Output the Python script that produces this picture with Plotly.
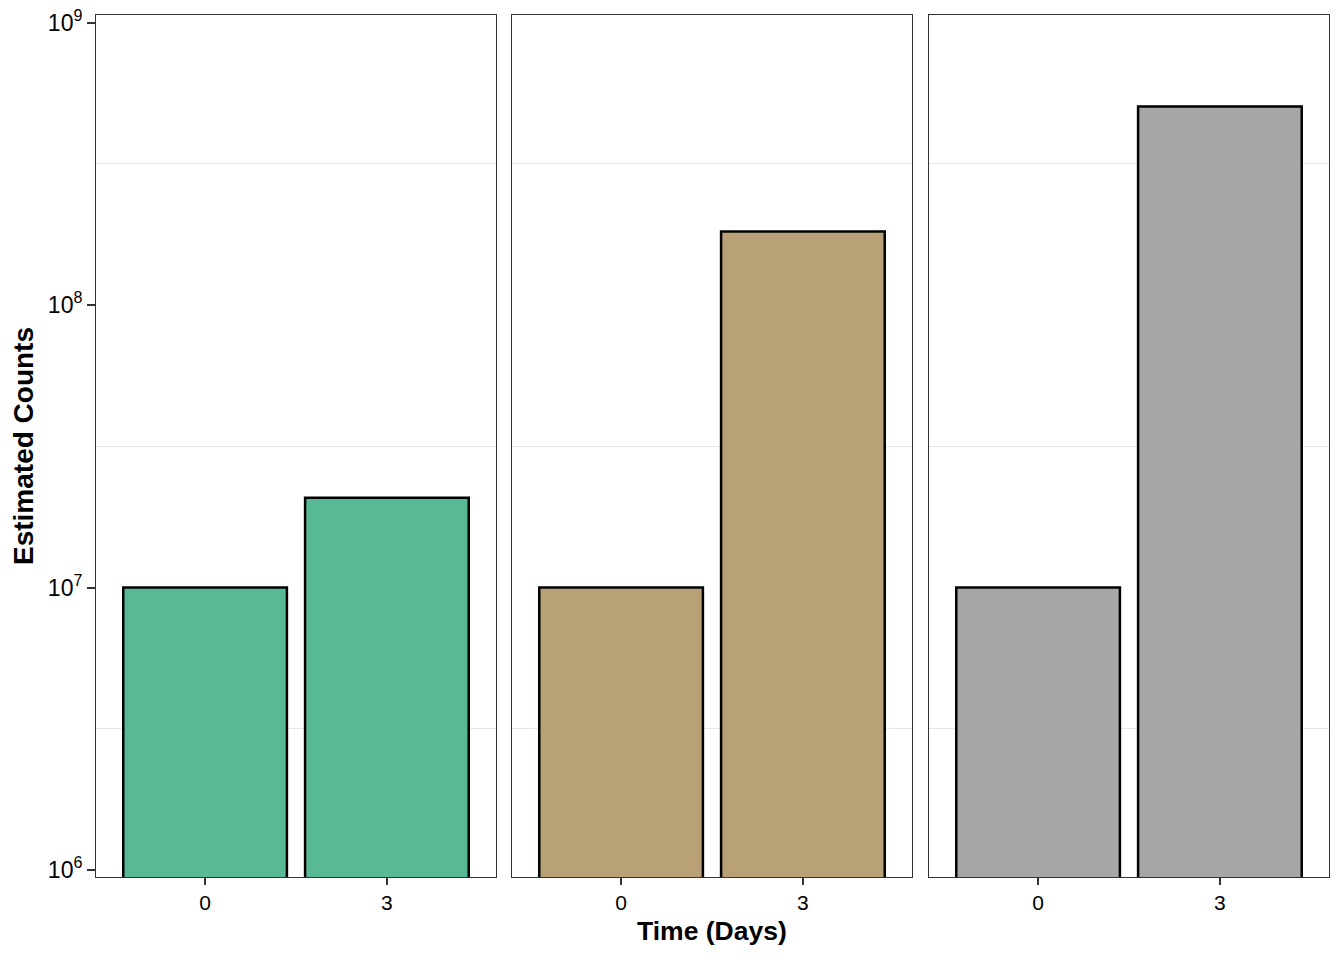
import plotly.graph_objects as go

days = ["0", "3"]
panel_values = [
    [1.0e7, 2.08e7],
    [1.0e7, 1.82e8],
    [1.0e7, 5.05e8],
]
panel_colors = ["#57BA94", "#B8A176", "#A6A6A6"]
ytick_vals = [1e6, 1e7, 1e8, 1e9]
ytick_text = ["10<sup>6</sup>", "10<sup>7</sup>", "10<sup>8</sup>", "10<sup>9</sup>"]
minor_vals = [10 ** 6.5, 10 ** 7.5, 10 ** 8.5]

# page offsets observed in the viewer (body margin)
OX, OY = 8, 8
W, H = 1344 - OX, 960 - OY
L, R, T, B = 96 - OX, 15, 15 - OY, 83
pw = W - L - R
ph = H - T - B
panels_px = [(96, 496), (512, 912), (929, 1329)]

fig = go.Figure()
font = "Liberation Sans, Arial, sans-serif"

for i, (vals, col) in enumerate(zip(panel_values, panel_colors)):
    xa = "x" if i == 0 else f"x{i+1}"
    ya = "y" if i == 0 else f"y{i+1}"
    fig.add_trace(go.Bar(
        x=days, y=[v - 1 for v in vals], base=[1, 1],
        marker=dict(color=col, line=dict(color="black", width=2.5)),
        width=0.9, xaxis=xa, yaxis=ya, showlegend=False,
    ))
    x0, x1 = panels_px[i]
    dom = [(x0 - 96) / pw, (x1 - 96) / pw]
    xkey = "xaxis" if i == 0 else f"xaxis{i+1}"
    ykey = "yaxis" if i == 0 else f"yaxis{i+1}"
    fig.layout[xkey] = dict(
        domain=dom, anchor=ya, type="category", range=[-0.6, 1.6],
        showline=True, linecolor="#333333", linewidth=1, mirror=True,
        ticks="outside", ticklen=7, tickwidth=2, tickcolor="#333333",
        tickfont=dict(family=font, size=21, color="black"),
        showgrid=False, zeroline=False, automargin=False,
    )
    ydict = dict(
        domain=[0, 1], anchor=xa, type="log", range=[5.975, 9.027],
        showline=True, linecolor="#333333", linewidth=1, mirror=True,
        showgrid=False, zeroline=False, automargin=False,
        minor=dict(tickmode="array", tickvals=minor_vals, showgrid=True,
                   gridcolor="#E6E6E6", gridwidth=1.2, ticklen=0),
    )
    if i == 0:
        ydict.update(tickmode="array", tickvals=ytick_vals, ticktext=ytick_text,
                     ticks="outside", ticklen=8, tickwidth=2, tickcolor="#333333",
                     ticklabeloverflow="allow",
                     tickfont=dict(family=font, size=23, color="black"),
                     title=dict(text="<b>Estimated Counts</b>",
                                font=dict(family=font, size=28, color="black"),
                                standoff=10))
    else:
        ydict.update(showticklabels=False, ticks="", matches="y")
    fig.layout[ykey] = ydict

fig.add_annotation(text="<b>Time (Days)</b>", xref="paper", yref="paper",
                   x=(712 - 96) / pw, y=-(931 - 877) / ph,
                   xanchor="center", yanchor="middle", showarrow=False,
                   font=dict(family=font, size=26.5, color="black"))

fig.update_layout(
    width=W, height=H, margin=dict(l=L, r=R, t=T, b=B),
    plot_bgcolor="white", paper_bgcolor="white", bargap=0.1,
)
fig.write_html("out.html")
